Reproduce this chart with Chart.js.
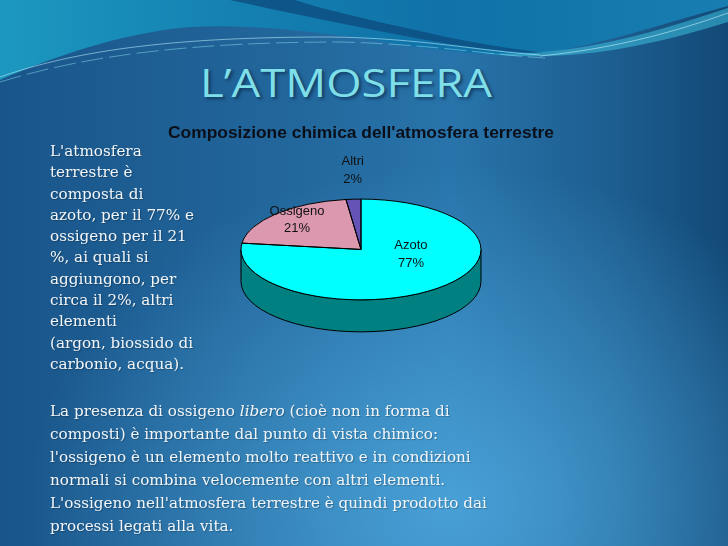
<!DOCTYPE html>
<html>
<head>
<meta charset="utf-8">
<script src="https://cdn.jsdelivr.net/npm/chart.js@4.4.1/dist/chart.umd.min.js"></script>
<style>
  html, body { margin:0; padding:0; }
  body { width:728px; height:546px; overflow:hidden; position:relative;
    background:
      radial-gradient(ellipse 58% 62% at 62% 92%, rgba(78,168,222,0.85), rgba(78,168,222,0) 100%),
      linear-gradient(90deg, #19558a 0%, #22679c 40%, #2874aa 62%, #1d5e90 84%, #124977 100%);
  }
  #swoosh { position:absolute; left:0; top:0; }
  #chart { position:absolute; left:0; top:0; }
  .title { position:absolute; left:200px; top:62px; font-family:"Open Sans", sans-serif; font-size:39px; line-height:39px;
    color:#7fdfe8; text-shadow: 2px 2px 3px rgba(0,20,50,0.55); white-space:nowrap; transform-origin:0 0; }
  .para { position:absolute; left:50px; font-family:"DejaVu Serif", serif; font-size:15.2px; color:#f3f6f8; white-space:nowrap;
    text-shadow: 1px 1px 1px rgba(0,0,0,0.25); }
  #p1 { top:141px; line-height:21.3px; }
  #p2 { top:400px; line-height:22.9px; }
</style>
</head>
<body>
<svg id="swoosh" width="728" height="140">
  <defs>
    <linearGradient id="teal" x1="0" x2="1" y1="0" y2="0">
      <stop offset="0" stop-color="#1c98bf"/>
      <stop offset="0.3" stop-color="#1582b3"/>
      <stop offset="0.6" stop-color="#1072a8"/>
      <stop offset="1" stop-color="#187db0"/>
    </linearGradient>
  </defs>
  <path d="M0,0 H728 V6 C660,24 600,46 540,53 C480,58 420,48 360,38 C300,30 240,24 190,27 C120,33 50,58 0,80 Z" fill="url(#teal)"/>
  <path d="M230,0 C300,15 380,32 450,44 C490,50 530,54 565,54 C520,51 470,43 420,31 C360,18 315,7 295,0 Z" fill="#0c4a7c" opacity="0.75"/>
  <path d="M480,53 C570,58 650,34 728,8 V22 C650,46 570,64 480,53 Z" fill="#3cc0dd" opacity="0.55"/>
  <path d="M0,77 C80,49 180,37 330,37 C420,38 480,51 540,55" stroke="#bff3ff" stroke-width="0.8" fill="none" opacity="0.7"/>
  <path d="M0,82 C90,54 200,42 340,42 C430,44 490,55 545,58" stroke="#8ee6f5" stroke-width="0.8" fill="none" opacity="0.6" stroke-dasharray="22 6"/>
  <path d="M540,56 C620,48 680,30 728,13" stroke="#d0f8ff" stroke-width="0.8" opacity="0.7" fill="none"/>
</svg>

<div class="title" id="title">L’ATMOSFERA</div>

<canvas id="chart" width="728" height="546"></canvas>

<div class="para" id="p1">L'atmosfera<br>terrestre è<br>composta di<br>azoto, per il 77% e<br>ossigeno per il 21<br>%, ai quali si<br>aggiungono, per<br>circa il 2%, altri<br>elementi<br>(argon, biossido di<br>carbonio, acqua).</div>

<div class="para" id="p2">La presenza di ossigeno <i>libero</i> (cioè non in forma di<br>composti) è importante dal punto di vista chimico:<br>l'ossigeno è un elemento molto reattivo e in condizioni<br>normali si combina velocemente con altri elementi.<br>L'ossigeno nell'atmosfera terrestre è quindi prodotto dai<br>processi legati alla vita.</div>

<script>
// ---- data ----
const chartTitle = "Composizione chimica dell'atmosfera terrestre";
const categories = ["Azoto", "Ossigeno", "Altri"];
const percentages = [77, 21, 2];

// ---- styles ----
const sliceColors = ["#00FFFF", "#DB98AF", "#6653B6"];
const sideColors = ["#008080", "#9A6072", "#3B2F80"];

// fit slide title width
(function(){
  const t = document.getElementById('title');
  const w = t.getBoundingClientRect().width;
  t.style.transform = 'scaleX(' + (292 / w) + ')';
})();

function frontSegments(s, e) {
  const segs = [];
  for (let k = -1; k <= 1; k++) {
    const lo = Math.max(s, 2 * Math.PI * k), hi = Math.min(e, Math.PI + 2 * Math.PI * k);
    if (hi > lo) segs.push([lo, hi]);
  }
  return segs;
}

function geom(chart, meta, opts) {
  const a = meta.data[0];
  const r = a.outerRadius;
  const ry = r * opts.tilt;
  return { x: a.x, y: a.y, r: r, cx: a.x, cy: chart.chartArea.top + ry, rx: r, ry: ry, depth: opts.depth };
}

const pie3d = {
  id: 'pie3d',
  beforeDatasetDraw(chart, args, opts) {
    const meta = args.meta;
    if (!meta.data.length) return;
    const g = geom(chart, meta, opts);
    const ctx = chart.ctx;
    meta.data.forEach((arc, i) => {
      frontSegments(arc.startAngle, arc.endAngle).forEach(([s, e]) => {
        ctx.beginPath();
        ctx.ellipse(g.cx, g.cy, g.rx, g.ry, 0, s, e);
        ctx.ellipse(g.cx, g.cy + g.depth, g.rx, g.ry, 0, e, s, true);
        ctx.closePath();
        ctx.fillStyle = opts.sideColors[i];
        ctx.fill();
        ctx.lineWidth = 1;
        ctx.strokeStyle = '#000';
        ctx.stroke();
      });
    });
    ctx.save();
    ctx.translate(g.cx, g.cy);
    ctx.scale(g.rx / g.r, g.ry / g.r);
    ctx.translate(-g.x, -g.y);
  },
  afterDatasetDraw(chart, args, opts) {
    const meta = args.meta;
    if (!meta.data.length) return;
    const ctx = chart.ctx;
    ctx.restore();
    const g = geom(chart, meta, opts);
    meta.data.forEach((arc) => {
      ctx.beginPath();
      ctx.moveTo(g.cx, g.cy);
      ctx.ellipse(g.cx, g.cy, g.rx, g.ry, 0, arc.startAngle, arc.endAngle);
      ctx.closePath();
      ctx.lineWidth = 1;
      ctx.strokeStyle = '#000';
      ctx.stroke();
    });
    const ds = chart.data.datasets[0];
    ctx.font = '13px "Liberation Sans", Arial, sans-serif';
    ctx.fillStyle = '#111';
    ctx.textAlign = 'center';
    ctx.textBaseline = 'middle';
    meta.data.forEach((arc, i) => {
      const m = (arc.startAngle + arc.endAngle) / 2;
      const f = opts.labelFactors[i];
      const lx = g.cx + g.rx * f[0] * Math.cos(m);
      const ly = g.cy + g.ry * f[1] * Math.sin(m);
      ctx.fillText(chart.data.labels[i], lx, ly - 8.8);
      ctx.fillText(ds.data[i] + '%', lx, ly + 8.8);
    });
  }
};

new Chart(document.getElementById('chart'), {
  type: 'pie',
  data: {
    labels: categories,
    datasets: [{
      data: percentages,
      backgroundColor: sliceColors,
      borderWidth: 0,
      hoverOffset: 0,
      clip: false
    }]
  },
  options: {
    responsive: false,
    animation: false,
    events: [],
    layout: { padding: { top: 120, left: 160, right: 166, bottom: 107 } },
    plugins: {
      legend: { display: false },
      tooltip: { enabled: false },
      title: {
        display: true,
        text: chartTitle,
        color: '#0b0f1a',
        font: { family: '"Liberation Sans", Arial, sans-serif', size: 17.4, weight: 'bold', lineHeight: 1.2 },
        padding: { top: 2.8, bottom: 55.4 }
      },
      pie3d: {
        tilt: 0.42,
        depth: 32,
        sideColors: sideColors,
        labelFactors: [[0.63, 0.13], [0.754, 0.826], [1.1, 1.567]]
      }
    }
  },
  plugins: [pie3d]
});
</script>
</body>
</html>
